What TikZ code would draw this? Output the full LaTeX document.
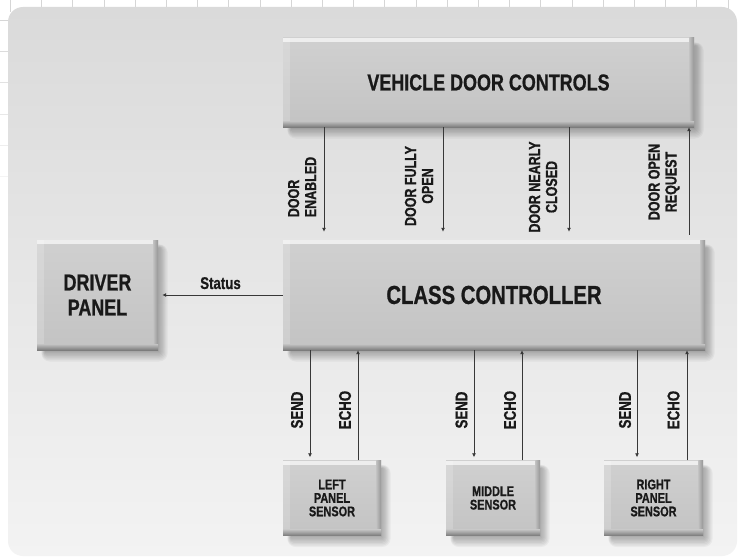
\documentclass[tikz,border=0pt]{standalone}
\usepackage{fontspec}
\setmainfont{Liberation Sans}[FakeStretch=0.78, BoldFeatures={FakeBold=0.8}]
\usetikzlibrary{calc,arrows.meta}
\pgfdeclarelayer{bg}
\pgfdeclarelayer{shd}
\pgfsetlayers{bg,shd,main}
\definecolor{gridc}{HTML}{D6D6D6}
\definecolor{paneltop}{HTML}{DADADA}
\definecolor{panelbot}{HTML}{F3F3F3}
\definecolor{boxtop}{HTML}{D0D0D0}
\definecolor{boxbot}{HTML}{C3C3C3}
\definecolor{boxdark}{HTML}{7C7C7C}
\definecolor{linec}{HTML}{383838}
\newcommand\boxshadow[1]{%
  \foreach \s in {0,...,7}{%
    \fill[black,opacity=0.04,rounded corners=1.2*\s pt] ($(#1.north west)+(8-0.5*\s,8-0.5*\s)$) rectangle ($(#1.south east)+(1+1.2*\s,1.5+1.4*\s)$);}}
\tikzset{
  box/.style={rectangle, draw=none, inner sep=0pt, align=center,
    top color=boxtop, bottom color=boxbot, text=black!90,
    path picture={
      \fill[white,opacity=0.65] (path picture bounding box.north west) rectangle ([yshift=-4pt]path picture bounding box.north east);
      \fill[white,opacity=0.18] (path picture bounding box.north west) rectangle ([xshift=7pt]path picture bounding box.south west);
      \shade[left color=boxbot, right color=boxdark!80] ([xshift=-5pt]path picture bounding box.north east) rectangle (path picture bounding box.south east);
      \shade[top color=boxbot, bottom color=boxdark] ([yshift=6pt]path picture bounding box.south west) rectangle (path picture bounding box.south east);
    }},
  bigtxt/.style={font=\bfseries\fontsize{23}{25}\selectfont},
  lab/.style={font=\bfseries\fontsize{16}{17}\selectfont, text=black!90, inner sep=0pt, rotate=90},
  sensetxt/.style={font=\bfseries\fontsize{14}{13.5}\selectfont},
  arr/.style={draw=linec, line width=1pt, -{Latex[length=4pt,width=4pt]}}
}
\begin{document}
\begin{tikzpicture}[x=1pt,y=-1pt]
\useasboundingbox (0,0) rectangle (743,559);
\begin{pgfonlayer}{bg}
  \fill[white] (0,0) rectangle (743,559);
  \foreach \i in {0,...,23}{
    \draw[gridc, line width=1pt] (10.5+31.2*\i,0) -- (10.5+31.2*\i,12);}
  \foreach \j in {0,...,5}{
    \draw[gridc, line width=1pt, opacity=1-0.15*\j] (0,20.5+31.2*\j) -- (12,20.5+31.2*\j);}
  \shade[top color=paneltop, bottom color=panelbot, rounded corners=15pt] (8,7) rectangle (737,556);
\end{pgfonlayer}

% boxes
\node[box, bigtxt, minimum width=411pt, minimum height=89pt] (vdc) at (488.5,82.5) {VEHICLE DOOR CONTROLS};
\node[box, font=\bfseries\fontsize{26}{28}\selectfont, minimum width=422pt, minimum height=110pt] (cc) at (494,295) {CLASS CONTROLLER};
\node[box, bigtxt, minimum width=121pt, minimum height=110pt] (dp) at (97.5,295) {DRIVER\\PANEL};
\node[box, sensetxt, minimum width=98pt, minimum height=75pt] (ls) at (332,498) {LEFT\\PANEL\\SENSOR};
\node[box, sensetxt, minimum width=94pt, minimum height=75pt] (ms) at (493,498) {MIDDLE\\SENSOR};
\node[box, sensetxt, minimum width=99pt, minimum height=75pt] (rs) at (653.5,498) {RIGHT\\PANEL\\SENSOR};

\begin{pgfonlayer}{shd}
  \boxshadow{vdc}\boxshadow{cc}\boxshadow{dp}\boxshadow{ls}\boxshadow{ms}\boxshadow{rs}
\end{pgfonlayer}

% x positions of connectors
\coordinate (xa) at (324,0);
\coordinate (xb) at (443,0);
\coordinate (xc) at (569,0);
\coordinate (xd) at (689,0);
\coordinate (s1) at (310,0);
\coordinate (e1) at (358,0);
\coordinate (s2) at (474,0);
\coordinate (e2) at (522,0);
\coordinate (s3) at (637,0);
\coordinate (e3) at (687,0);

% top connectors
\draw[arr, shorten >=8pt] (vdc.south -| xa) -- (cc.north -| xa);
\draw[arr, shorten >=8pt] (vdc.south -| xb) -- (cc.north -| xb);
\draw[arr, shorten >=8pt] (vdc.south -| xc) -- (cc.north -| xc);
\draw[arr, shorten <=5pt] (cc.north -| xd) -- (vdc.south -| xd);
\node[lab, align=left] (l1) at (302,187) {DOOR\\ENABLED};
\node[lab, align=center] (l2) at (419,186) {DOOR FULLY\\OPEN};
\node[lab, align=center] (l3) at (543,187) {DOOR NEARLY\\CLOSED};
\node[lab, align=center] (l4) at (664,182) {DOOR OPEN\\REQUEST};

% status
\draw[arr, shorten >=4pt] (cc.west) -- (dp.east) node[midway, above=2pt, font=\bfseries\fontsize{17}{19}\selectfont, text=black!90] (st) {Status};

% bottom connectors
\draw[arr, shorten >=3pt] (cc.south -| s1) -- (ls.north -| s1);
\draw[arr] (ls.north -| e1) -- (cc.south -| e1);
\draw[arr, shorten >=3pt] (cc.south -| s2) -- (ms.north -| s2);
\draw[arr] (ms.north -| e2) -- (cc.south -| e2);
\draw[arr, shorten >=3pt] (cc.south -| s3) -- (rs.north -| s3);
\draw[arr] (rs.north -| e3) -- (cc.south -| e3);
\tikzset{small/.style={lab, font=\bfseries\fontsize{17}{18}\selectfont}}
\node[small] (ts1) at (297,410) {SEND};
\node[small] (te1) at (345,410) {ECHO};
\node[small] (ts2) at (461.5,410) {SEND};
\node[small] (te2) at (510,410) {ECHO};
\node[small] (ts3) at (625,410) {SEND};
\node[small] (te3) at (673.5,410) {ECHO};
\end{tikzpicture}
\end{document}
